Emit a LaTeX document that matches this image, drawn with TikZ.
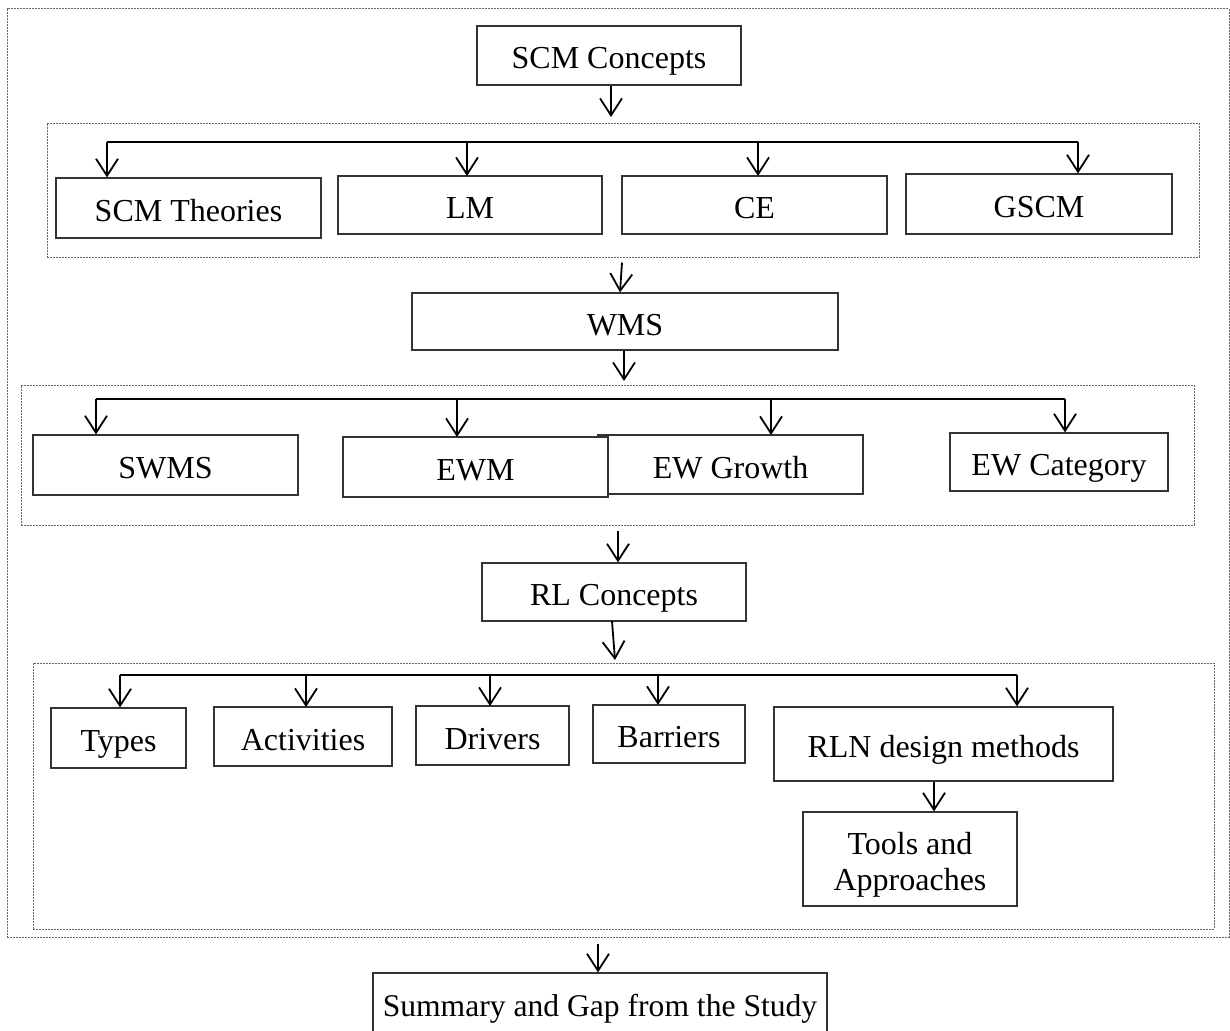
\documentclass[tikz,border=0pt]{standalone}
\usepackage{fontspec}
\setmainfont{Liberation Serif}
\usetikzlibrary{arrows.meta}
\begin{document}
\begin{tikzpicture}[x=1pt,y=-1pt,
  font=\fontsize{32}{36}\selectfont,
  box/.style={draw=black!80, line width=1.2pt, fill=white, inner sep=0pt, align=center, text height=27pt, text depth=0pt},
  grp/.style={draw=black!60, line width=1pt, dash pattern=on 1.6pt off 1.4pt, inner sep=0pt},
  arr/.style={line width=1.8pt, -{Straight Barb[length=17pt,width=22pt]}},
  bline/.style={line width=2.4pt}]
\clip (0,0) rectangle (1230,1030);
\fill[white] (0,0) rectangle (1230,1030);
% group boxes
\node[grp, minimum width=1222pt, minimum height=928pt] (outer) at (618,473) {};
\node[grp, minimum width=1152pt, minimum height=134pt] (g1) at (623,190) {};
\node[grp, minimum width=1173pt, minimum height=140pt] (g2) at (607.5,455) {};
\node[grp, minimum width=1181pt, minimum height=266pt] (g3) at (623.5,796) {};
% boxes
\node[box, minimum width=264pt, minimum height=59pt] (scm) at (609,55.5) {SCM Concepts};
\node[box, minimum width=265pt, minimum height=60pt] (th) at (188.5,208) {SCM Theories};
\node[box, minimum width=264pt, minimum height=58pt] (lm) at (470,205) {LM};
\node[box, minimum width=265pt, minimum height=58pt] (ce) at (754.5,205) {CE};
\node[box, minimum width=266pt, minimum height=60pt] (gscm) at (1039,204) {GSCM};
\node[box, minimum width=426pt, minimum height=57pt] (wms) at (625,321.5) {WMS};
\node[box, minimum width=265pt, minimum height=60pt] (swms) at (165.5,465) {SWMS};
\node[box, minimum width=265pt, minimum height=59pt] (ewg) at (730.5,464.5) {EW Growth};
\node[box, minimum width=265pt, minimum height=60pt] (ewm) at (475.5,467) {EWM};
\node[box, minimum width=218pt, minimum height=58pt] (ewc) at (1059,462) {EW Category};
\node[box, minimum width=264pt, minimum height=58pt] (rl) at (614,592) {RL Concepts};
\node[box, minimum width=135pt, minimum height=60pt] (types) at (118.5,738) {Types};
\node[box, minimum width=178pt, minimum height=59pt] (act) at (303,736.5) {Activities};
\node[box, minimum width=153pt, minimum height=59pt] (drv) at (492.5,735.5) {Drivers};
\node[box, minimum width=152pt, minimum height=58pt] (bar) at (669,734) {Barriers};
\node[box, minimum width=339pt, minimum height=74pt] (rln) at (943.5,744) {RLN design methods};
\node[box, minimum width=214pt, minimum height=94pt, text height=63pt] (tools) at (910,859) {Tools and\\Approaches};
\node[box, minimum width=454pt, minimum height=60pt, font=\fontsize{31.6}{36}\selectfont] (sum) at (600,1003) {Summary and Gap from the Study};
% main flow arrows
\coordinate (a1) at (611,117);
\draw[arr] (scm.south -| a1) -- (a1);
\draw[arr] ([xshift=-3pt]g1.south -| wms.north) ++(0,5) -- ([xshift=-5pt]wms.north);
\coordinate (a2) at (624,381);
\draw[arr] (wms.south -| a2) -- (a2);
\draw[arr] ([xshift=4pt]g2.south -| rl.north) ++(0,5) -- ([xshift=4pt]rl.north);
\coordinate (a3s) at (612,621);
\coordinate (a3) at (615,660);
\draw[arr] (a3s) -- (a3);
\draw[arr] ([xshift=-2pt]outer.south -| sum.north) ++(0,6) -- ([xshift=-2pt]sum.north);
% branch 1
\coordinate (b1s) at (107,142);
\coordinate (b1e) at (1078,142);
\draw[bline] (b1s) -- (b1e);
\draw[arr] (b1s) -- (b1s |- th.north);
\draw[arr] (467,142) -- (467,176);
\draw[arr] (758,142) -- (758,176);
\draw[arr] (b1e) -- (b1e |- gscm.north);
% branch 2
\coordinate (b2s) at (96,399);
\coordinate (b2e) at (1065,399);
\draw[bline] (b2s) -- (b2e);
\draw[arr] (b2s) -- (b2s |- swms.north);
\draw[arr] (457,399) -- (457,437);
\draw[arr] (771,399) -- (771,435);
\draw[arr] (b2e) -- (b2e |- ewc.north);
% branch 3
\coordinate (b3s) at (120,675);
\coordinate (b3e) at (1017,675);
\draw[bline] (b3s) -- (b3e);
\draw[arr] (b3s) -- (b3s |- types.north);
\draw[arr] (306,675) -- (306,707);
\draw[arr] (490,675) -- (490,706);
\draw[arr] (658,675) -- (658,705);
\draw[arr] (b3e) -- (b3e |- rln.north);
\draw[arr] (rln.south -| tools.north) ++(24,0) -- ([xshift=24pt]tools.north);
\end{tikzpicture}
\end{document}
